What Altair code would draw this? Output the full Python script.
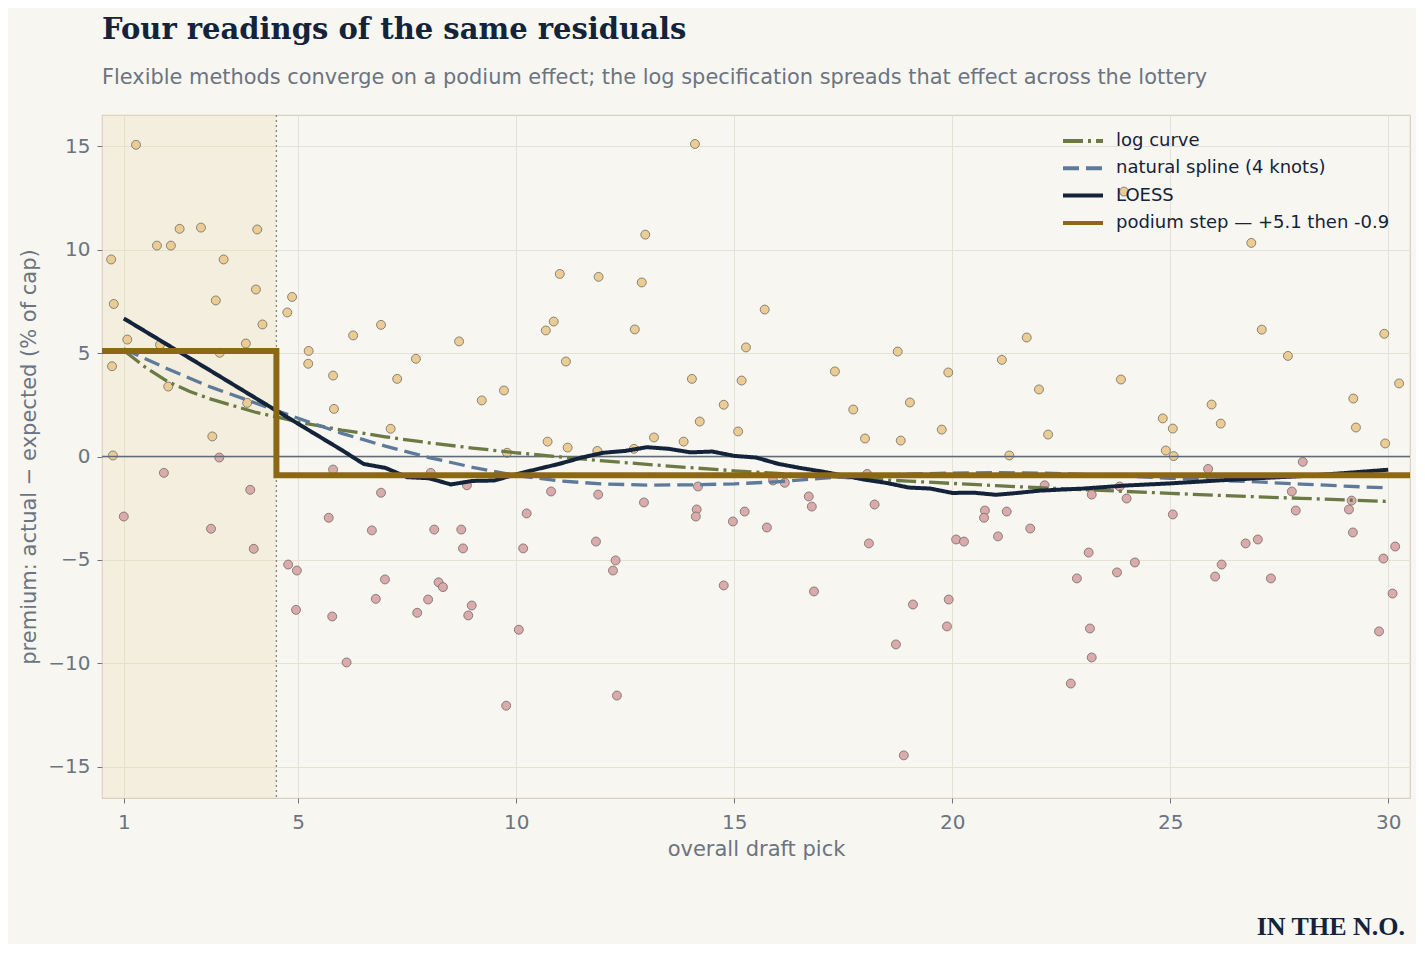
import altair as alt
import pandas as pd

# ---- scatter residuals (pick with jitter, premium) ----
pt_x = [0.71, 0.77, 0.73, 0.75, 1.00, 1.08, 1.28, 1.76, 2.08, 2.28, 2.77, 1.92, 2.02, 1.83, 3.20,
        3.80, 4.06, 3.29, 3.11, 4.03, 4.18, 3.83, 3.03, 3.19, 3.90, 3.00, 3.98, 4.75, 4.86, 4.77,
        4.97, 4.95, 5.24, 5.23, 6.26, 6.90, 5.80, 7.70, 7.27, 5.82, 7.12, 5.80, 6.90, 5.70, 6.69,
        8.12, 8.04, 6.99, 6.78, 5.78, 6.11, 7.98, 7.73, 8.22, 8.32,
        8.69, 9.21, 9.72, 9.79, 10.72, 11.18, 11.00, 10.68, 10.86, 11.14, 11.89, 11.86, 12.88, 12.96,
        12.72, 12.70, 13.16, 14.10, 14.03, 13.84, 14.21, 14.76, 15.09, 15.17, 15.27, 15.70, 8.87,
        8.74, 8.78, 8.98, 8.90, 9.77, 10.06, 10.24, 10.16, 10.80, 11.88, 11.83, 12.28, 12.22, 12.31,
        12.93, 14.17, 14.14, 14.12, 14.76, 14.97, 15.24, 15.75,
        17.31, 18.75, 17.73, 19.03, 19.91, 18.00, 18.82, 19.76, 21.14, 21.71, 21.99, 22.20, 21.31,
        16.16, 15.89, 16.71, 16.78, 16.83, 18.05, 18.22, 18.09, 19.10, 18.71, 18.89, 19.92, 19.88,
        20.09, 20.27, 20.75, 20.73, 21.25, 21.05, 21.79, 22.12, 23.20, 23.13, 22.86, 23.16, 23.20,
        22.72,
        26.86, 27.10, 29.91, 27.70, 23.87, 30.25, 29.20, 25.95, 24.83, 25.06, 26.16, 29.26, 29.93,
        24.90, 25.08, 28.04, 25.87, 23.94, 23.84, 24.00, 25.06, 23.78, 24.19, 27.79, 27.88, 26.73,
        27.01, 26.18, 26.03, 27.31, 29.16, 29.10, 29.19, 30.16, 29.89, 30.10, 29.79]
pt_y = [9.52, 7.37, 4.36, 0.05, -2.90, 5.65, 15.06, 10.19, 10.19, 11.00, 11.06, -0.79, 3.38, 5.40, 5.01,
        5.46, 10.97, 9.52, 7.54, 8.07, 6.38, 2.59, 0.97, -0.05, -1.61, -3.49, -4.46, 6.96, 7.71, -5.22,
        -5.51, -7.41, 5.10, 4.48, 5.85, 6.36, 3.91, 4.72, 3.75, 2.30, 1.34, -0.63, -1.75, -2.96, -3.57,
        -3.53, -0.79, -5.94, -6.88, -7.73, -9.95, -6.91, -7.55, -6.08, -6.31,
        5.56, 2.71, 3.19, 0.18, 0.72, 0.43, 8.82, 6.09, 6.52, 4.59, 8.68, 0.27, 8.41, 10.72,
        6.14, 0.37, 0.92, 15.10, 3.75, 0.72, 1.69, 2.50, 1.21, 3.67, 5.27, 7.10, -1.39,
        -3.53, -4.44, -7.20, -7.68, -12.04, -8.37, -2.75, -4.44, -1.69, -1.84, -4.11, -5.02, -5.51, -11.55,
        -2.22, -1.45, -2.56, -2.90, -6.23, -3.14, -2.66, -3.43,
        4.11, 5.07, 2.27, 2.61, 4.06, 0.87, 0.77, 1.30, 4.67, 5.75, 3.24, 1.06, 0.05,
        -1.27, -1.16, -1.93, -2.42, -6.52, -0.84, -2.32, -4.20, -7.15, -9.08, -14.44, -6.91, -8.21,
        -4.01, -4.11, -2.61, -2.96, -2.66, -3.86, -3.48, -1.39, -1.84, -4.64, -5.89, -8.31, -9.71,
        -10.97,
        10.32, 6.13, 5.93, 4.86, 3.72, 3.53, 2.80, 2.51, 1.84, 1.35, 1.59, 1.40, 0.63,
        0.29, 0.02, -0.26, -0.60, 12.80, -1.45, -2.03, -2.80, -5.60, -5.12, -1.69, -2.61, -4.20,
        -4.01, -5.22, -5.80, -5.89, -2.13, -2.56, -3.67, -4.35, -4.93, -6.62, -8.45]

# ---- fitted curves ----
log_x = [1, 1.5, 2, 2.5, 3, 4, 5, 6, 7, 8, 9, 10, 11, 12, 13, 14, 15, 16, 17, 18, 19, 20,
         21, 22, 23, 24, 25, 26, 27, 28, 29, 30]
log_y = [5.12, 4.3, 3.63, 3.15, 2.77, 2.15, 1.67, 1.28, 0.95, 0.66, 0.41, 0.18, -0.02, -0.21, -0.38,
         -0.54, -0.69, -0.82, -0.95, -1.08, -1.19, -1.30, -1.41, -1.51, -1.60, -1.69, -1.78, -1.87,
         -1.95, -2.02, -2.10, -2.17]

spline_x = [1, 2, 3, 4, 5, 6, 7, 8, 9, 10, 11, 12, 13, 14, 15, 16, 17, 18, 19, 20, 21, 22, 23,
            24, 25, 26, 27, 28, 29, 30]
spline_y = [5.2, 4.24, 3.35, 2.6, 1.85, 1.12, 0.5, -0.05, -0.52, -0.92, -1.18, -1.33, -1.38, -1.37,
            -1.32, -1.22, -1.05, -0.93, -0.85, -0.80, -0.78, -0.80, -0.86, -0.95, -1.05, -1.14,
            -1.23, -1.33, -1.43, -1.52]

loess_x = [1, 2, 3, 4, 5, 6, 6.5, 7, 7.5, 8, 8.5, 9, 9.5, 10, 10.5, 11, 11.5, 12, 12.5, 13, 13.5,
           14, 14.5, 15, 15.5, 16, 16.5, 17, 17.5, 18, 18.5, 19, 19.5, 20, 20.5, 21, 21.5, 22,
           22.5, 23, 24, 25, 26, 27, 28, 29, 30]
loess_y = [6.67, 5.4, 4.13, 2.85, 1.58, 0.31, -0.36, -0.55, -1.0, -1.05, -1.35, -1.18, -1.16, -0.86,
           -0.6, -0.35, -0.05, 0.18, 0.27, 0.45, 0.37, 0.2, 0.24, 0.03, -0.05, -0.35, -0.55, -0.72,
           -0.92, -1.12, -1.28, -1.5, -1.55, -1.76, -1.75, -1.85, -1.76, -1.65, -1.6, -1.55, -1.4,
           -1.3, -1.17, -1.05, -0.95, -0.8, -0.64]

step_x = [0.5, 4.5, 30.5]
step_y = [5.1, -0.9, -0.9]

series_names = ["log curve", "natural spline (4 knots)", "LOESS", "podium step — +5.1 then -0.9"]
series_colors = ["#6b7a45", "#5d7a9a", "#13233a", "#8b6914"]
series_dash = [[20, 5, 3, 5], [16, 7], [1, 0], [1, 0]]
series_width = [3.3, 3.3, 4.0, 6.0]

x_ticks = [1, 5, 10, 15, 20, 25, 30]
y_ticks = [-15, -10, -5, 0, 5, 10, 15]

# ---- frames ----
pts = pd.DataFrame({"x": pt_x, "y": pt_y})
pts["sign"] = ["pos" if v >= 0 else "neg" for v in pt_y]

curves = pd.concat([
    pd.DataFrame({"x": log_x, "y": log_y, "series": series_names[0], "w": series_width[0]}),
    pd.DataFrame({"x": spline_x, "y": spline_y, "series": series_names[1], "w": series_width[1]}),
    pd.DataFrame({"x": loess_x, "y": loess_y, "series": series_names[2], "w": series_width[2]}),
], ignore_index=True)
steps = pd.DataFrame({"x": step_x, "y": step_y, "series": series_names[3], "w": series_width[3]})

GRAY = "#6b7480"
xscale = alt.Scale(domain=[0.5, 30.5], nice=False, zero=False)
yscale = alt.Scale(domain=[-16.5, 16.5], nice=False, zero=False)
xaxis = alt.Axis(values=x_ticks, title="overall draft pick", grid=True)
yaxis = alt.Axis(values=y_ticks, title="premium: actual − expected (% of cap)", grid=True)


def X(field="x"):
    return alt.X(f"{field}:Q", scale=xscale, axis=xaxis)


def Y(field="y"):
    return alt.Y(f"{field}:Q", scale=yscale, axis=yaxis)


shade = alt.Chart(pd.DataFrame({"x": [0.5], "x2": [4.5]})).mark_rect(
    color="#ecd9b4", opacity=0.3
).encode(x=X(), x2="x2:Q")

vline = alt.Chart(pd.DataFrame({"x": [4.5]})).mark_rule(
    color="#8d8478", strokeDash=[2, 3], strokeWidth=1.3
).encode(x=X())

points = alt.Chart(pts).mark_circle(size=80, opacity=1, stroke="#6e6a66", strokeWidth=0.8).encode(
    x=X(), y=Y(),
    fill=alt.Fill("sign:N", scale=alt.Scale(domain=["pos", "neg"], range=["#ebcd94", "#dbaaab"]),
                  legend=None),
)

zero = alt.Chart(pd.DataFrame({"y": [0]})).mark_rule(color="#5f6b78", strokeWidth=1.3).encode(y=Y())

leg = alt.Legend(
    title=None, orient="none", legendX=969, legendY=14, symbolType="M-2,0H2", symbolSize=400,
    symbolStrokeWidth=4, labelFontSize=18, labelColor="#13233a", labelFont="DejaVu Sans",
    labelOffset=21, rowPadding=6.3, labelLimit=500,
)
col_enc = alt.Color("series:N", scale=alt.Scale(domain=series_names, range=series_colors), legend=leg)
dash_enc = alt.StrokeDash("series:N", scale=alt.Scale(domain=series_names, range=series_dash), legend=leg)
width_enc = alt.StrokeWidth("w:Q", scale=None, legend=None)

lines = alt.Chart(curves).mark_line().encode(
    x=X(), y=Y(), color=col_enc, strokeDash=dash_enc, strokeWidth=width_enc, detail="series:N",
    order="x:Q",
)
step_line = alt.Chart(steps).mark_line(interpolate="step-after").encode(
    x=X(), y=Y(), color=col_enc, strokeDash=dash_enc, strokeWidth=width_enc,
)

mark_text = alt.Chart(pd.DataFrame({"t": ["IN THE N.O."]})).mark_text(
    align="right", baseline="alphabetic", font="Liberation Serif", fontWeight="bold",
    fontSize=26, color="#13233a",
).encode(text="t:N", x=alt.value(1303), y=alt.value(820))

chart = alt.layer(shade, vline, points, zero, lines, step_line, mark_text).properties(
    width=1308, height=683,
    title=alt.TitleParams(
        text="Four readings of the same residuals",
        subtitle="Flexible methods converge on a podium effect; the log specification spreads that effect across the lottery",
        anchor="start", frame="group", font="DejaVu Serif", fontSize=29, fontWeight="bold",
        color="#13233a", subtitleFont="DejaVu Sans", subtitleFontSize=20.9, subtitleColor=GRAY,
        subtitlePadding=22, offset=26,
    ),
    autosize=alt.AutoSizeParams(type="none"),
    padding={"left": 94, "top": 107, "right": 6, "bottom": 146},
).configure(background="#f8f6f1").configure_view(
    stroke="#d8d0c0", strokeWidth=1.2
).configure_axis(
    labelFont="DejaVu Sans", labelFontSize=20, labelColor=GRAY,
    titleFont="DejaVu Sans", titleFontSize=21, titleColor=GRAY, titleFontWeight="normal",
    gridColor="#e6e1d6", gridWidth=1, domain=False, tickColor=GRAY, tickSize=5,
).configure_axisY(titlePadding=8, labelPadding=7).configure_axisX(titlePadding=6, labelPadding=9)

chart.save("out.html", embed_options={"renderer": "svg", "actions": False})
